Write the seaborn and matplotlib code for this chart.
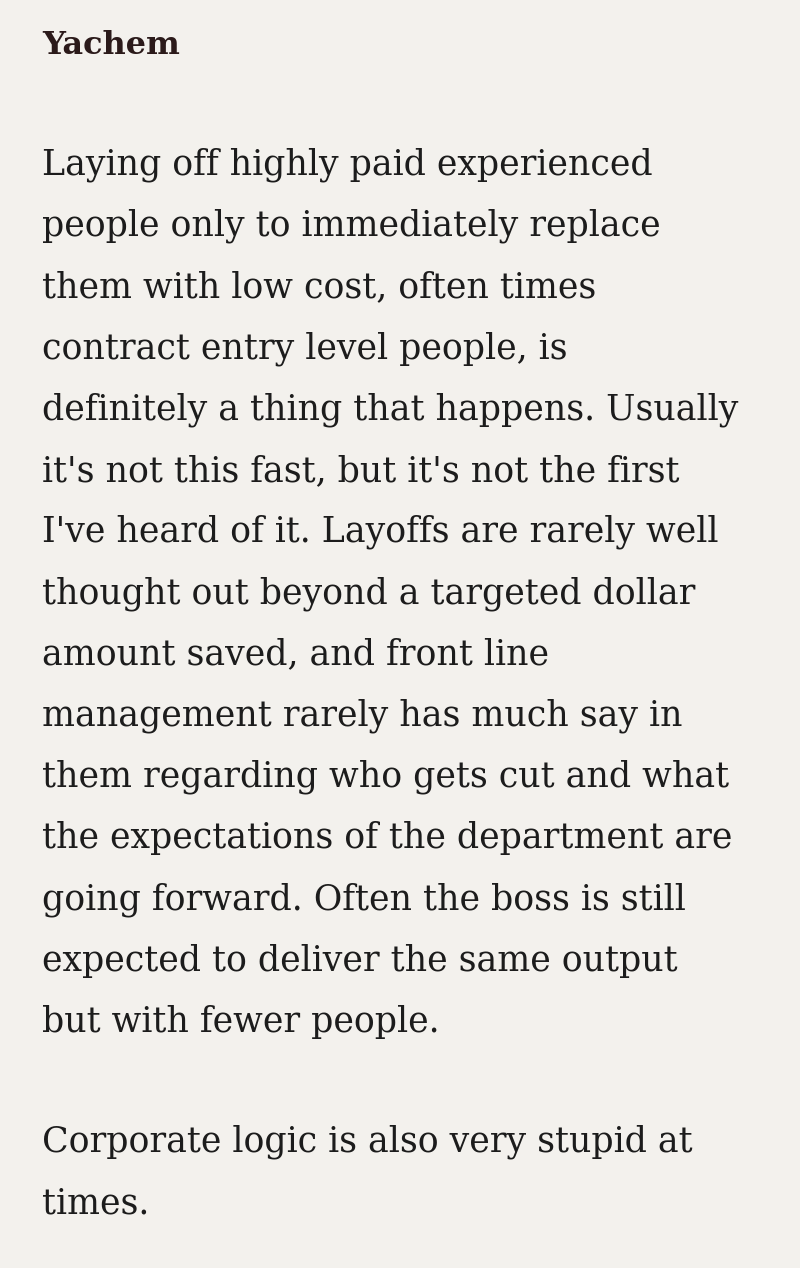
import matplotlib
matplotlib.use("Agg")
import matplotlib.pyplot as plt
import seaborn as sns

author = "Yachem"
para1 = ["Laying off highly paid experienced",
         "people only to immediately replace",
         "them with low cost, often times",
         "contract entry level people, is",
         "definitely a thing that happens. Usually",
         "it's not this fast, but it's not the first",
         "I've heard of it. Layoffs are rarely well",
         "thought out beyond a targeted dollar",
         "amount saved, and front line",
         "management rarely has much say in",
         "them regarding who gets cut and what",
         "the expectations of the department are",
         "going forward. Often the boss is still",
         "expected to deliver the same output",
         "but with fewer people."]
para2 = ["Corporate logic is also very stupid at", "times."]

sns.set_theme(style="white")
plt.rcParams['font.family'] = ['DejaVu Serif']
bg = "#f3f1ed"
fig = plt.figure(figsize=(8, 12.68), dpi=100, facecolor=bg)
ax = fig.add_axes([0, 0, 1, 1])
ax.set_facecolor(bg)
ax.set_xlim(0, 800); ax.set_ylim(1268, 0); ax.axis("off")

ax.text(42, 45, author, fontsize=23, fontweight="bold", color="#2b1a1a", va="center")
y = 165
for line in para1:
    ax.text(42, y, line, fontsize=25, color="#1c1c1c", va="center")
    y += 61.2
y = 1142
for line in para2:
    ax.text(42, y, line, fontsize=25, color="#1c1c1c", va="center")
    y += 61
fig.savefig("out.png", dpi=100, facecolor=bg)
